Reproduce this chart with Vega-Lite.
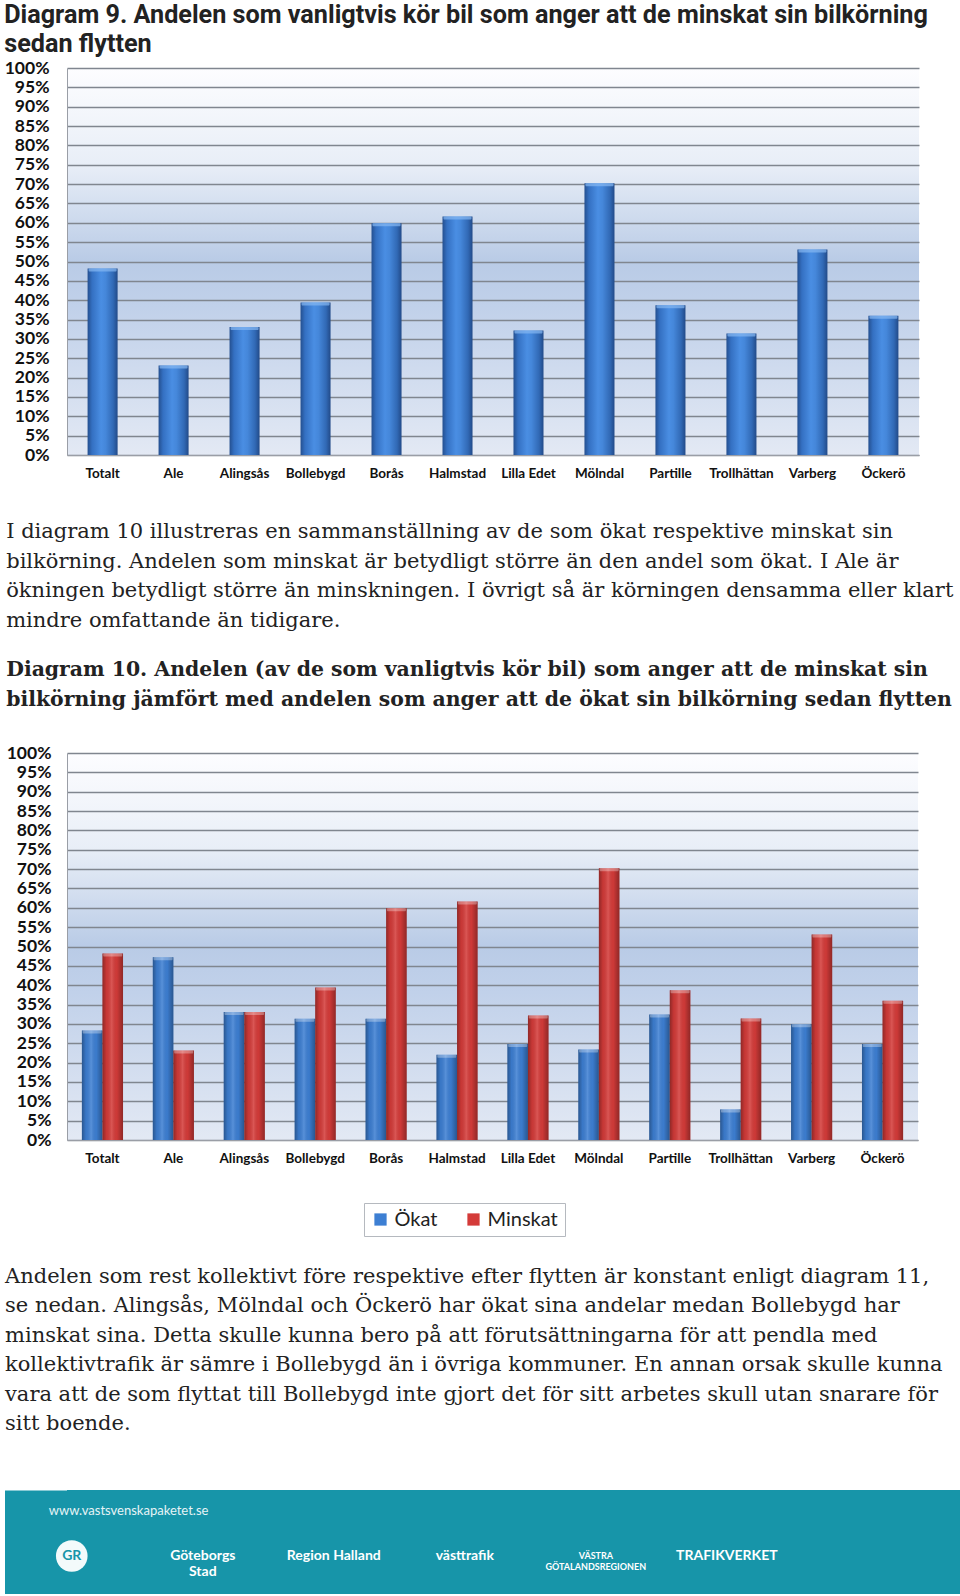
{
  "$schema": "https://vega.github.io/schema/vega-lite/v6.json",
  "padding": {"left": 4, "top": 2, "right": 0, "bottom": 0},
  "background": "white",
  "spacing": 28,
  "bounds": "full",
  "resolve": {"scale": {"color": "independent"}, "legend": {"color": "independent"}},
  "datasets": {
    "bil": [
      {"kommun": "Totalt", "serie": "Ökat", "andel": 28.3},
      {"kommun": "Totalt", "serie": "Minskat", "andel": 48.2},
      {"kommun": "Ale", "serie": "Ökat", "andel": 47.2},
      {"kommun": "Ale", "serie": "Minskat", "andel": 23.1},
      {"kommun": "Alingsås", "serie": "Ökat", "andel": 33.1},
      {"kommun": "Alingsås", "serie": "Minskat", "andel": 33.1},
      {"kommun": "Bollebygd", "serie": "Ökat", "andel": 31.3},
      {"kommun": "Bollebygd", "serie": "Minskat", "andel": 39.4},
      {"kommun": "Borås", "serie": "Ökat", "andel": 31.3},
      {"kommun": "Borås", "serie": "Minskat", "andel": 59.9},
      {"kommun": "Halmstad", "serie": "Ökat", "andel": 22.0},
      {"kommun": "Halmstad", "serie": "Minskat", "andel": 61.6},
      {"kommun": "Lilla Edet", "serie": "Ökat", "andel": 24.8},
      {"kommun": "Lilla Edet", "serie": "Minskat", "andel": 32.2},
      {"kommun": "Mölndal", "serie": "Ökat", "andel": 23.4},
      {"kommun": "Mölndal", "serie": "Minskat", "andel": 70.2},
      {"kommun": "Partille", "serie": "Ökat", "andel": 32.4},
      {"kommun": "Partille", "serie": "Minskat", "andel": 38.7},
      {"kommun": "Trollhättan", "serie": "Ökat", "andel": 7.9},
      {"kommun": "Trollhättan", "serie": "Minskat", "andel": 31.4},
      {"kommun": "Varberg", "serie": "Ökat", "andel": 29.9},
      {"kommun": "Varberg", "serie": "Minskat", "andel": 53.1},
      {"kommun": "Öckerö", "serie": "Ökat", "andel": 24.8},
      {"kommun": "Öckerö", "serie": "Minskat", "andel": 36.0}
    ],
    "footer": [
      {"logo": "GR", "rad": "url", "text": "www.vastsvenskapaketet.se"},
      {"logo": "GR", "rad": "circle", "text": "GR"},
      {"logo": "Göteborgs Stad", "rad": "logos", "text": "Göteborgs\nStad"},
      {"logo": "Region Halland", "rad": "logos", "text": "Region Halland"},
      {"logo": "västtrafik", "rad": "logos", "text": "västtrafik"},
      {"logo": "Västra Götalandsregionen", "rad": "small", "text": "VÄSTRA\nGÖTALANDSREGIONEN"},
      {"logo": "Trafikverket", "rad": "logos", "text": "TRAFIKVERKET"}
    ]
  },
  "config": {
    "view": {"stroke": null},
    "axisY": {
      "labelExpr": "datum.value + '%'",
      "labelOverlap": false,
      "labelBound": false,
      "grid": true,
      "gridColor": "#80868f",
      "gridWidth": 1.3,
      "domain": true,
      "domainColor": "#9a9ea6",
      "ticks": false,
      "labelFont": "Lato",
      "labelFontWeight": "bold",
      "labelFontSize": 17.5,
      "labelColor": "#111111",
      "title": null
    },
    "axisX": {
      "domain": true,
      "domainColor": "#9a9ea6",
      "ticks": false,
      "grid": false,
      "labelAngle": 0,
      "labelFont": "Lato",
      "labelFontWeight": "bold",
      "labelFontSize": 13.5,
      "labelColor": "#111111",
      "labelPadding": 11
    }
  },
  "vconcat": [
    {
      "width": 852,
      "height": 387,
      "title": {
        "text": ["Diagram 9. Andelen som vanligtvis kör bil som anger att de minskat sin bilkörning", "sedan flytten"],
        "anchor": "start",
        "frame": "bounds",
        "baseline": "top",
        "font": "Roboto",
        "fontSize": 25.2,
        "fontWeight": "bold",
        "lineHeight": 29,
        "offset": 2,
        "color": "#222222"
      },
      "data": {"name": "bil"},
      "transform": [{"filter": "datum.serie === 'Minskat'"}],
      "view": {
        "stroke": null,
        "fill": {"gradient": "linear", "x1": 0, "y1": 0, "x2": 0, "y2": 1, "stops": [
          {"offset": 0, "color": "#fdfdff"},
          {"offset": 0.25, "color": "#e8eef7"},
          {"offset": 0.5, "color": "#b9cbe6"},
          {"offset": 0.62, "color": "#c1d1ea"},
          {"offset": 1, "color": "#e3e9f4"}
        ]}
      },
      "encoding": {
        "x": {
          "field": "kommun", "type": "nominal", "sort": null,
          "scale": {"paddingInner": 0.577, "paddingOuter": 0.29},
          "axis": {"title": " ", "titleFontSize": 8, "titlePadding": 5}
        },
        "y": {
          "field": "andel", "type": "quantitative",
          "scale": {"domain": [0, 100]},
          "axis": {"labelPadding": 18, "values": [0, 5, 10, 15, 20, 25, 30, 35, 40, 45, 50, 55, 60, 65, 70, 75, 80, 85, 90, 95, 100]}
        }
      },
      "layer": [
        {
          "mark": {
            "type": "bar",
            "color": {"gradient": "linear", "x1": 0, "y1": 0, "x2": 1, "y2": 0, "stops": [
              {"offset": 0, "color": "#244f8f"},
              {"offset": 0.15, "color": "#3470c2"},
              {"offset": 0.45, "color": "#4a8ee3"},
              {"offset": 0.6, "color": "#4587da"},
              {"offset": 0.85, "color": "#3169b5"},
              {"offset": 1, "color": "#224a88"}
            ]}
          }
        },
        {
          "mark": {"type": "tick", "size": 28, "thickness": 3, "yOffset": 1.5, "color": "#86b8f2", "cornerRadius": 1}
        }
      ]
    },
    {
      "width": 851,
      "height": 387,
      "title": {
        "text": [
          "I diagram 10 illustreras en sammanställning av de som ökat respektive minskat sin",
          "bilkörning. Andelen som minskat är betydligt större än den andel som ökat. I Ale är",
          "ökningen betydligt större än minskningen. I övrigt så är körningen densamma eller klart",
          "mindre omfattande än tidigare."
        ],
        "subtitle": [
          "Diagram 10. Andelen (av de som vanligtvis kör bil) som anger att de minskat sin",
          "bilkörning jämfört med andelen som anger att de ökat sin bilkörning sedan flytten"
        ],
        "anchor": "start",
        "frame": "bounds",
        "baseline": "top",
        "font": "DejaVu Serif",
        "fontSize": 21,
        "fontWeight": "normal",
        "lineHeight": 29.5,
        "color": "#222222",
        "subtitleFont": "DejaVu Serif",
        "subtitleFontSize": 20.4,
        "subtitleFontWeight": "bold",
        "subtitleLineHeight": 30,
        "subtitleColor": "#222222",
        "subtitlePadding": 29,
        "offset": 34
      },
      "data": {"name": "bil"},
      "view": {
        "stroke": null,
        "fill": {"gradient": "linear", "x1": 0, "y1": 0, "x2": 0, "y2": 1, "stops": [
          {"offset": 0, "color": "#fdfdff"},
          {"offset": 0.25, "color": "#e8eef7"},
          {"offset": 0.5, "color": "#b9cbe6"},
          {"offset": 0.62, "color": "#c1d1ea"},
          {"offset": 1, "color": "#e3e9f4"}
        ]}
      },
      "encoding": {
        "x": {
          "field": "kommun", "type": "nominal", "sort": null,
          "scale": {"paddingInner": 0.42, "paddingOuter": 0.21},
          "axis": {"title": null}
        },
        "xOffset": {"field": "serie", "type": "nominal", "sort": ["Ökat", "Minskat"], "scale": {"paddingInner": 0, "paddingOuter": 0}},
        "y": {
          "field": "andel", "type": "quantitative",
          "scale": {"domain": [0, 100]},
          "axis": {"labelPadding": 16, "values": [0, 5, 10, 15, 20, 25, 30, 35, 40, 45, 50, 55, 60, 65, 70, 75, 80, 85, 90, 95, 100]}
        }
      },
      "layer": [
        {
          "mark": {"type": "bar"},
          "encoding": {
            "color": {
              "field": "serie", "type": "nominal",
              "scale": {"domain": ["Ökat", "Minskat"], "range": ["#3d7fd3", "#d43b39"]},
              "legend": {
                "title": null,
                "orient": "none",
                "legendX": 297,
                "legendY": 450,
                "direction": "horizontal",
                "strokeColor": "#b5b9bf",
                "fillColor": "#ffffff",
                "padding": 6.5,
                "symbolType": "square",
                "symbolSize": 150,
                "symbolStrokeWidth": 0,
                "labelFont": "Lato",
                "labelFontSize": 20,
                "labelColor": "#222222",
                "labelOffset": 4,
                "columnPadding": 26
              }
            }
          }
        },
        {
          "mark": {
            "type": "bar",
            "fill": {"gradient": "linear", "x1": 0, "y1": 0, "x2": 1, "y2": 0, "stops": [
              {"offset": 0, "color": "rgba(0,0,0,0.32)"},
              {"offset": 0.2, "color": "rgba(0,0,0,0.06)"},
              {"offset": 0.45, "color": "rgba(255,255,255,0.14)"},
              {"offset": 0.7, "color": "rgba(0,0,0,0.03)"},
              {"offset": 1, "color": "rgba(0,0,0,0.32)"}
            ]}
          }
        },
        {
          "mark": {"type": "tick", "size": 19, "thickness": 3, "yOffset": 1.5, "color": "rgba(255,255,255,0.45)", "cornerRadius": 1}
        }
      ]
    },
    {
      "width": 893,
      "height": 104,
      "title": {
        "text": [
          "Andelen som rest kollektivt före respektive efter flytten är konstant enligt diagram 11,",
          "se nedan. Alingsås, Mölndal och Öckerö har ökat sina andelar medan Bollebygd har",
          "minskat sina. Detta skulle kunna bero på att förutsättningarna för att pendla med",
          "kollektivtrafik är sämre i Bollebygd än i övriga kommuner. En annan orsak skulle kunna",
          "vara att de som flyttat till Bollebygd inte gjort det för sitt arbetes skull utan snarare för",
          "sitt boende."
        ],
        "anchor": "start",
        "frame": "bounds",
        "baseline": "top",
        "font": "DejaVu Serif",
        "fontSize": 21,
        "fontWeight": "normal",
        "lineHeight": 29.5,
        "color": "#222222",
        "dx": -31,
        "offset": 56
      },
      "view": {"fill": "#1795a9", "stroke": null},
      "data": {"name": "footer"},
      "encoding": {
        "x": {"field": "logo", "type": "nominal", "sort": null, "scale": {"type": "point", "domain": ["GR", "Göteborgs Stad", "Region Halland", "västtrafik", "Västra Götalandsregionen", "Trafikverket"], "padding": 0.908, "align": 0.02}, "axis": null},
        "y": {
          "field": "rad", "type": "nominal",
          "scale": {"type": "point", "domain": ["url", "logos"], "padding": 0.656, "align": 0.356},
          "axis": {"orient": "left", "labels": false, "ticks": false, "grid": false, "title": null, "domain": true, "domainColor": "#1795a9", "domainWidth": 63, "domainCap": "butt", "offset": 31}
        }
      },
      "layer": [
        {
          "transform": [{"filter": "datum.rad === 'url'"}],
          "mark": {"type": "text", "align": "left", "dx": -23, "font": "Lato", "fontSize": 13, "color": "#e6f3f6"},
          "encoding": {"text": {"field": "text"}}
        },
        {
          "transform": [{"filter": "datum.rad === 'circle'"}],
          "mark": {"type": "point", "shape": "circle", "filled": true, "size": 1000, "color": "#ffffff", "opacity": 0.95},
          "encoding": {"y": {"datum": "logos"}}
        },
        {
          "transform": [{"filter": "datum.rad === 'circle'"}],
          "mark": {"type": "text", "align": "center", "font": "Lato", "fontWeight": "bold", "fontSize": 14, "color": "#1795a9"},
          "encoding": {"text": {"field": "text"}, "y": {"datum": "logos"}}
        },
        {
          "transform": [{"filter": "datum.rad === 'logos'"}],
          "mark": {"type": "text", "align": "center", "lineBreak": "\n", "font": "Lato", "fontWeight": "bold", "fontSize": 14, "color": "#ffffff"},
          "encoding": {"text": {"field": "text"}}
        },
        {
          "transform": [{"filter": "datum.rad === 'small'"}],
          "mark": {"type": "text", "align": "center", "lineBreak": "\n", "font": "Lato", "fontWeight": "bold", "fontSize": 9, "color": "#ffffff"},
          "encoding": {"text": {"field": "text"}, "y": {"datum": "logos"}}
        }
      ]
    }
  ]
}
